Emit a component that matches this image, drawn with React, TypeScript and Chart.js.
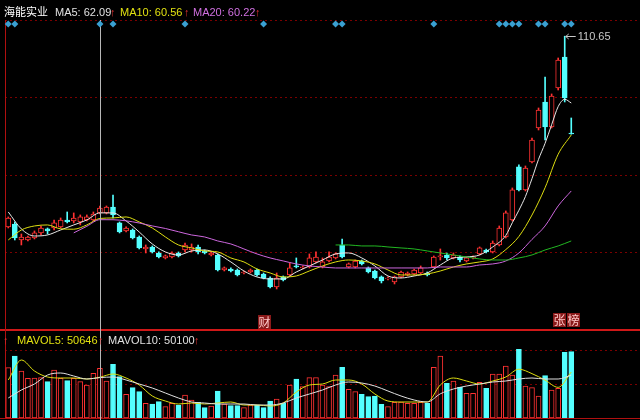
import React, { useEffect, useRef } from "react";
import { Chart, registerables } from "chart.js";

Chart.register(...registerables);

// ---------- data ----------
const SLOT_COUNT = 97;
const OPEN = [
  58.22, 59.04, 54.64, 54.64, 55.19, 56.57, 57.67, 57.94, 58.22, 60.14,
  59.87, 59.59, 60.14, 60.14, 62.07, 62.07, 63.71, 59.32, 57.12, 57.39,
  55.47, 52.17, 52.72, 51.07, 49.7, 49.97, 51.07, 51.89, 51.89, 52.72,
  51.62, 50.52, 50.52, 46.4, 46.67, 46.4, 45.57, 45.85, 46.4, 45.3,
  44.2, 41.73, 44.48, 45.02, 47.5, 46.95, 47.22, 48.6, 47.22, 48.87,
  49.7, 53.27, 47.22, 47.22, 48.87, 46.95, 46.12, 44.48, 43.93, 43.1,
  44.48, 45.02, 45.3, 45.57, 45.57, 47.22, 49.97, 50.52, 49.7, 49.97,
  48.87, 49.7, 50.8, 51.89, 51.35, 53.27, 55.47, 60.14, 74.71, 68.39,
  76.08, 85.42, 92.57, 85.69, 96.41, 104.93, 84.05,
];
const CLOSE = [
  60.69, 55.19, 55.47, 55.47, 56.57, 57.94, 57.12, 59.32, 60.14, 59.59,
  60.69, 60.97, 60.97, 61.79, 63.44, 63.71, 61.52, 56.84, 57.94, 55.19,
  52.45, 52.72, 51.35, 49.97, 50.25, 51.07, 50.25, 53.27, 52.72, 51.35,
  51.07, 51.07, 46.4, 46.95, 46.12, 45.02, 45.85, 46.4, 45.02, 44.2,
  41.73, 44.2, 43.65, 46.95, 47.22, 47.22, 49.7, 49.97, 48.6, 49.97,
  50.8, 49.97, 48.05, 48.87, 48.05, 45.85, 44.2, 43.38, 44.2, 44.48,
  45.85, 45.57, 46.4, 46.95, 45.02, 49.97, 50.25, 49.7, 50.52, 49.14,
  49.7, 49.97, 52.45, 51.35, 53.82, 57.94, 62.07, 68.39, 68.39, 74.43,
  82.13, 90.37, 85.69, 94.22, 104.11, 93.67, 83.77,
];
const HIGH = [
  60.97, 59.59, 56.29, 55.74, 57.12, 58.49, 57.94, 60.14, 60.69, 62.34,
  62.07, 61.52, 61.52, 62.34, 63.99, 63.99, 67.01, 59.59, 58.22, 57.67,
  55.74, 53.27, 53.0, 51.35, 50.52, 51.35, 51.35, 53.82, 53.55, 53.27,
  51.89, 51.35, 50.8, 47.22, 46.95, 46.67, 46.12, 46.67, 46.67, 45.57,
  44.48, 45.57, 44.75, 48.32, 49.7, 47.5, 50.8, 51.35, 49.7, 51.35,
  51.07, 54.92, 48.32, 49.14, 49.14, 47.22, 46.4, 44.75, 44.48, 44.75,
  46.12, 45.85, 46.67, 47.5, 45.85, 50.25, 52.17, 51.07, 51.07, 50.25,
  49.97, 50.25, 52.72, 52.17, 54.37, 58.49, 62.62, 68.94, 75.26, 74.98,
  82.68, 90.92, 99.44, 94.77, 104.66, 110.65, 88.17,
];
const LOW = [
  57.94, 54.64, 53.27, 54.37, 54.92, 56.02, 56.29, 57.39, 57.94, 59.32,
  59.32, 58.77, 59.87, 59.87, 61.79, 61.79, 60.69, 56.57, 56.84, 54.92,
  52.17, 51.07, 51.07, 49.7, 49.42, 49.7, 49.97, 51.35, 51.35, 50.8,
  50.8, 50.25, 46.12, 46.12, 45.85, 44.75, 45.3, 45.57, 44.75, 43.93,
  41.45, 41.18, 43.38, 44.75, 46.95, 46.67, 46.95, 48.32, 46.95, 48.6,
  49.42, 49.7, 46.95, 46.95, 47.77, 45.57, 43.93, 42.83, 43.65, 42.55,
  44.2, 44.75, 45.02, 45.3, 44.75, 46.95, 49.14, 49.14, 49.42, 48.6,
  48.6, 49.42, 50.52, 51.07, 51.07, 53.0, 55.19, 59.87, 68.11, 68.11,
  75.81, 84.87, 82.13, 85.42, 95.86, 92.57, 83.7,
];
const VOLUME = [
  62370, 76880, 58280, 49230, 49500, 49970, 45010, 59520, 49230, 46250,
  49230, 45010, 40920, 55430, 61630, 45880, 66590, 51210, 29390, 37570,
  32610, 18230, 17360, 20210, 14010, 18230, 16120, 28520, 22320, 19470,
  12770, 14880, 33480, 17360, 15250, 15250, 12770, 16120, 16120, 12770,
  21080, 23560, 18230, 40920, 48360, 38810, 49970, 49970, 40920, 38810,
  53320, 62870, 35590, 32610, 29390, 26410, 27280, 16990, 14010, 19470,
  19840, 18230, 18230, 19470, 18230, 62870, 76880, 43030, 45880, 38070,
  30630, 30630, 44270, 36830, 54560, 54560, 64480, 53320, 85190, 39680,
  37570, 27280, 52450, 34720, 36830, 81470, 82210,
];

// moving averages: [candle index, value]
const MA5: [number, number][] = [
  [0, 62.34], [2, 57.67], [4, 55.74], [6, 56.02], [8, 57.39], [10, 58.77], [12, 60.14],
  [14, 62.09], [16, 62.07], [18, 59.87], [20, 56.84], [22, 53.55], [24, 51.35], [26, 50.52],
  [28, 51.62], [30, 51.89], [32, 50.8], [34, 48.6], [36, 46.12], [38, 44.48], [40, 43.93],
  [42, 43.93], [44, 45.85], [46, 47.5], [48, 49.14], [50, 50.8], [52, 51.07], [54, 49.7],
  [56, 47.5], [58, 44.75], [60, 44.2], [62, 44.75], [64, 45.57], [66, 47.77], [68, 49.7],
  [70, 49.97], [72, 50.52], [74, 52.72], [76, 55.9], [77, 59.4], [78, 62.8], [79, 66.6],
  [80, 71.5], [81, 76.8], [82, 81.2], [83, 86.3], [84, 91.3], [85, 93.3], [86, 92.29],
];
const MA10: [number, number][] = [
  [0, 54.64], [2, 57.39], [4, 58.49], [6, 58.77], [8, 57.7], [10, 57.6], [12, 58.77],
  [14, 60.56], [16, 60.69], [18, 60.97], [20, 59.59], [22, 57.94], [24, 55.47], [26, 53.27],
  [28, 52.45], [30, 51.62], [32, 51.35], [34, 49.7], [36, 48.6], [38, 46.67], [40, 45.57],
  [42, 44.48], [44, 44.75], [46, 46.12], [48, 47.5], [50, 48.6], [52, 49.14], [54, 48.87],
  [56, 48.05], [58, 46.4], [60, 45.02], [62, 45.02], [64, 45.3], [66, 46.12], [68, 47.22],
  [70, 48.05], [72, 48.6], [74, 49.42], [76, 52.0], [78, 55.6], [80, 61.5], [82, 69.0],
  [84, 78.2], [86, 83.5],
];
const MA20: [number, number][] = [
  [10, 56.6], [12, 58.4], [14, 60.22], [16, 60.2], [18, 59.9], [20, 59.3], [22, 58.5],
  [24, 57.8], [26, 56.9], [28, 56.02], [30, 55.47], [32, 54.37], [34, 53.55], [36, 52.17],
  [38, 50.8], [40, 49.7], [42, 48.87], [44, 48.05], [46, 47.5], [48, 47.22], [50, 46.95],
  [52, 46.95], [54, 46.95], [56, 46.95], [58, 46.95], [60, 46.95], [62, 46.95], [64, 46.95],
  [66, 47.22], [68, 47.22], [70, 47.22], [72, 47.77], [74, 48.05], [76, 48.87], [78, 51.07],
  [80, 54.8], [82, 58.49], [84, 64.0], [86, 68.11],
];
const MA60: [number, number][] = [
  [50, 53.27], [52, 53.27], [54, 53.0], [56, 53.0], [58, 52.72], [60, 52.45], [62, 52.17],
  [64, 51.62], [66, 51.07], [68, 50.52], [70, 49.97], [72, 49.42], [74, 49.14], [76, 49.14],
  [78, 49.7], [80, 50.52], [82, 51.89], [84, 53.0], [86, 54.37],
];
const MAVOL5: [number, number][] = [
  [0, 47120], [2, 71920], [4, 58280], [6, 50840], [8, 49600], [10, 49600], [12, 48360],
  [14, 50646], [16, 54560], [18, 49600], [20, 40920], [22, 27280], [24, 21080], [26, 17360],
  [28, 18600], [30, 17360], [32, 18600], [34, 19840], [36, 16120], [38, 16120], [40, 14880],
  [42, 18600], [44, 32240], [46, 40920], [48, 42160], [50, 47120], [52, 47120], [54, 42160],
  [56, 29760], [58, 21080], [60, 19840], [62, 19840], [64, 19840], [66, 41000], [68, 49600],
  [70, 45880], [72, 42160], [74, 45880], [76, 50840], [78, 60500], [80, 55000], [82, 47000],
  [84, 38000], [86, 57000],
];
const MAVOL10: [number, number][] = [
  [0, 24800], [2, 34720], [4, 42160], [6, 53320], [8, 55800], [10, 52080], [12, 48360],
  [14, 50100], [16, 50840], [18, 47120], [20, 42160], [22, 37200], [24, 31000], [26, 24800],
  [28, 19840], [30, 18600], [32, 17360], [34, 17360], [36, 17360], [38, 16120], [40, 16120],
  [42, 18600], [44, 24800], [46, 29760], [48, 34720], [50, 40920], [52, 44640], [54, 43400],
  [56, 39680], [58, 33480], [60, 27280], [62, 22320], [64, 19840], [66, 30000], [68, 35960],
  [70, 39680], [72, 42160], [74, 44640], [76, 45880], [78, 48360], [80, 49600], [82, 48360],
  [84, 48360], [86, 53070],
];
const SIGNAL_IDX = [0, 1, 14, 16, 27, 39, 50, 51, 65, 75, 76, 77, 78, 81, 82, 85, 86];
const CURSOR_IDX = 14;

// axes ranges / grid ticks
const PRICE_MIN = 5.71;
const PRICE_MAX = 115.1;
const PRICE_PANEL_BOTTOM = 29.9;
const PRICE_GRID = [51.2, 72.5, 93.8, 115.1];
const VOL_MAX = 493520;
const VOL_GRID = [42160, 84320];

const UP = "#ff3232";
const DOWN = "#54ffff";
const FONT = '"Liberation Sans", Arial, "Noto Sans CJK SC", sans-serif';

export default function App() {
  const ref = useRef<HTMLCanvasElement | null>(null);

  useEffect(() => {
    document.body.style.margin = "0";
    document.body.style.background = "#000";
    const canvas = ref.current!;
    const isUp = OPEN.map((o, i) => CLOSE[i] >= o);
    const labels = Array.from({ length: SLOT_COUNT }, (_, i) => i);
    const pts = (p: [number, number][]) => p.map(([x, y]) => ({ x, y }));

    const frame = {
      id: "frame",
      beforeDatasetsDraw(chart: any) {
        const { ctx, chartArea: a, scales } = chart;
        const ys = scales.y;
        const yv = scales.yv;
        ctx.save();
        ctx.lineWidth = 1;
        ctx.strokeStyle = "#7a0000";
        ctx.setLineDash([2, 3]);
        const hline = (py: number) => {
          const yy = Math.round(py) + 0.5;
          ctx.beginPath();
          ctx.moveTo(a.left, yy);
          ctx.lineTo(a.right, yy);
          ctx.stroke();
        };
        PRICE_GRID.forEach((v) => hline(ys.getPixelForValue(v)));
        VOL_GRID.forEach((v) => hline(yv.getPixelForValue(v)));
        ctx.setLineDash([]);
        ctx.strokeStyle = "#d01818";
        ctx.lineWidth = 2;
        const sep = Math.round(ys.getPixelForValue(PRICE_PANEL_BOTTOM));
        ctx.beginPath();
        ctx.moveTo(0, sep);
        ctx.lineTo(a.right, sep);
        ctx.stroke();
        ctx.lineWidth = 1;
        ctx.strokeStyle = "#b01010";
        ctx.beginPath();
        ctx.moveTo(0, Math.round(a.bottom) + 0.5);
        ctx.lineTo(a.right, Math.round(a.bottom) + 0.5);
        ctx.moveTo(Math.round(a.left) + 0.5, a.top);
        ctx.lineTo(Math.round(a.left) + 0.5, a.bottom);
        ctx.stroke();
        ctx.restore();
      },
      afterDatasetsDraw(chart: any) {
        const { ctx, chartArea: a, scales } = chart;
        const xs = scales.x;
        const ys = scales.y;
        ctx.save();
        // cursor
        const cx = Math.round(xs.getPixelForValue(CURSOR_IDX)) + 0.5;
        ctx.strokeStyle = "#b8b8b8";
        ctx.lineWidth = 1;
        ctx.beginPath();
        ctx.moveTo(cx, a.top);
        ctx.lineTo(cx, 420);
        ctx.stroke();
        // signal diamonds
        ctx.fillStyle = "#3aa0d2";
        SIGNAL_IDX.forEach((i) => {
          const x = xs.getPixelForValue(i);
          const y = a.top + 4;
          ctx.beginPath();
          ctx.moveTo(x, y - 3.5);
          ctx.lineTo(x + 3.5, y);
          ctx.lineTo(x, y + 3.5);
          ctx.lineTo(x - 3.5, y);
          ctx.closePath();
          ctx.fill();
        });
        // highest price marker
        const hMax = Math.max(...HIGH);
        const hi = HIGH.indexOf(hMax);
        const px = xs.getPixelForValue(hi);
        const py = Math.round(ys.getPixelForValue(hMax)) + 0.5;
        ctx.strokeStyle = "#c8c8c8";
        ctx.beginPath();
        ctx.moveTo(px + 1, py);
        ctx.lineTo(px + 11, py);
        ctx.moveTo(px + 1, py);
        ctx.lineTo(px + 4, py - 2.5);
        ctx.moveTo(px + 1, py);
        ctx.lineTo(px + 4, py + 2.5);
        ctx.stroke();
        ctx.fillStyle = "#c8c8c8";
        ctx.font = '11px "Liberation Sans", Arial, sans-serif';
        ctx.textBaseline = "middle";
        ctx.fillText(hMax.toFixed(2), px + 13, py);
        ctx.restore();
      },
    };

    const line = (data: [number, number][], color: string, axis: string) => ({
      type: "line" as const,
      data: pts(data),
      yAxisID: axis,
      borderColor: color,
      borderWidth: 1,
      pointRadius: 0,
      cubicInterpolationMode: "monotone" as const,
      order: 0,
    });

    const chart = new Chart(canvas, {
      type: "bar",
      data: {
        labels,
        datasets: [
          {
            type: "bar",
            data: LOW.map((l, i) => [l, HIGH[i]]) as any,
            yAxisID: "y",
            backgroundColor: isUp.map((u) => (u ? UP : DOWN)),
            borderWidth: 0,
            barThickness: 1,
            grouped: false,
            order: 3,
          },
          {
            type: "bar",
            data: OPEN.map((o, i) => [o, CLOSE[i]]) as any,
            yAxisID: "y",
            backgroundColor: isUp.map((u) => (u ? "#000000" : DOWN)),
            borderColor: isUp.map((u) => (u ? UP : DOWN)),
            borderWidth: 1,
            borderSkipped: false,
            barThickness: 5,
            grouped: false,
            order: 2,
          },
          {
            type: "bar",
            data: VOLUME,
            yAxisID: "yv",
            backgroundColor: isUp.map((u) => (u ? "#000000" : DOWN)),
            borderColor: isUp.map((u) => (u ? UP : DOWN)),
            borderWidth: 1,
            borderSkipped: false,
            barThickness: 5,
            grouped: false,
            order: 2,
          },
          line(MA60, "#22b822", "y"),
          line(MA20, "#cc66dd", "y"),
          line(MA10, "#dede10", "y"),
          line(MA5, "#e8e8e8", "y"),
          line(MAVOL10, "#e0e0e0", "yv"),
          line(MAVOL5, "#dede10", "yv"),
        ] as any,
      },
      options: {
        responsive: false,
        animation: false,
        events: [],
        layout: { padding: { top: 20, left: 5, right: 0, bottom: 2 } },
        plugins: { legend: { display: false }, tooltip: { enabled: false } },
        scales: {
          x: { type: "category", display: false, offset: true, grid: { display: false } },
          y: { type: "linear", display: false, min: PRICE_MIN, max: PRICE_MAX },
          yv: { type: "linear", display: false, min: 0, max: VOL_MAX, position: "right" },
        },
      },
      plugins: [frame],
    });
    return () => chart.destroy();
  }, []);

  const t = (
    text: string,
    left: number,
    top: number,
    color: string,
    extra: React.CSSProperties = {}
  ) => (
    <span
      style={{
        position: "absolute",
        left,
        top,
        color,
        fontFamily: FONT,
        fontSize: 11,
        lineHeight: "14px",
        whiteSpace: "nowrap",
        ...extra,
      }}
    >
      {text}
    </span>
  );

  const tag = (text: string, left: number, top: number) => (
    <span
      style={{
        position: "absolute",
        left,
        top,
        width: 13,
        height: 14,
        background: "#8a1a1a",
        color: "#ffc8c8",
        fontFamily: '"Noto Sans CJK SC", sans-serif',
        fontSize: 12,
        lineHeight: "14px",
        textAlign: "center",
      }}
    >
      {text}
    </span>
  );

  return (
    <div style={{ position: "relative", width: 640, height: 420, background: "#000", overflow: "hidden" }}>
      <canvas ref={ref} width={640} height={420} style={{ display: "block", width: 640, height: 420 }} />
      {t("海能实业", 4, 4, "#ffffff", { fontFamily: '"Noto Sans CJK SC", sans-serif', fontSize: 11 })}
      {t("MA5: 62.09", 55, 5, "#e0e0e0")}
      {t("↑", 110, 5, "#e03030")}
      {t("MA10: 60.56", 120, 5, "#e0e010")}
      {t("↑", 184, 5, "#e03030")}
      {t("MA20: 60.22", 193, 5, "#d070e0")}
      {t("↑", 255, 5, "#e03030")}
      {t("↑", 3, 333, "#e03030")}
      {t("MAVOL5: 50646", 17, 333, "#e0e010")}
      {t("↑", 98, 333, "#e03030")}
      {t("MAVOL10: 50100", 108, 333, "#e0e0e0")}
      {t("↑", 194, 333, "#e03030")}
      {tag("财", 258, 315)}
      {tag("张", 553, 313)}
      {tag("榜", 567, 313)}
    </div>
  );
}
